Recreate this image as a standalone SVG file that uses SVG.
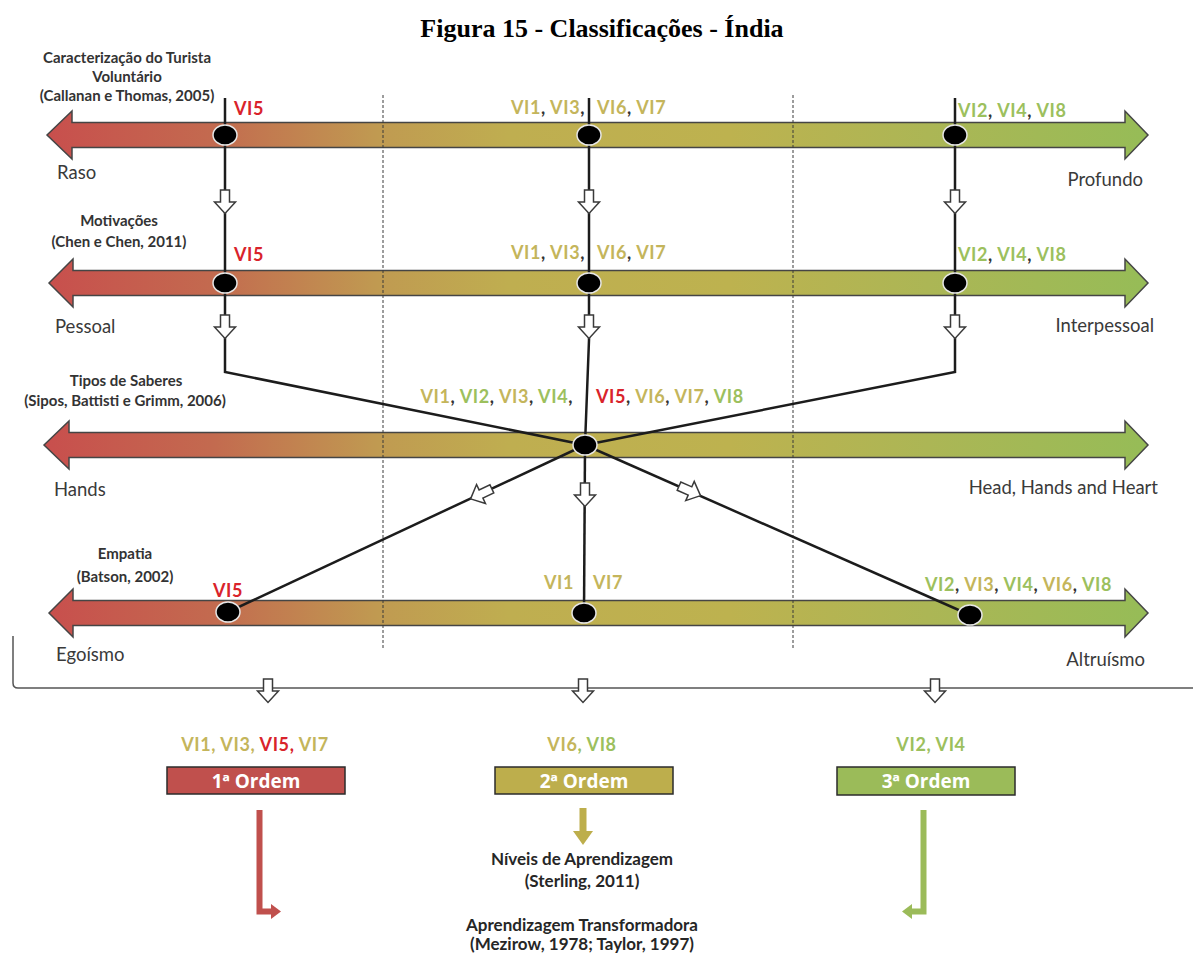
<svg xmlns="http://www.w3.org/2000/svg" xmlns:xlink="http://www.w3.org/1999/xlink" width="1193" height="954" viewBox="0 0 1193 954">
  <defs>
    <linearGradient id="scaleGrad" gradientUnits="userSpaceOnUse" x1="47" y1="0" x2="1148" y2="0">
      <stop offset="0" stop-color="#c84f4d"/>
      <stop offset="0.15" stop-color="#c36a4f"/>
      <stop offset="0.3" stop-color="#c09a51"/>
      <stop offset="0.42" stop-color="#bfae50"/>
      <stop offset="0.62" stop-color="#bdb24f"/>
      <stop offset="0.8" stop-color="#acb655"/>
      <stop offset="1" stop-color="#96bc57"/>
    </linearGradient>
    <!-- hollow block arrow, pointing down, origin at the base of the head -->
    <path id="hollow" d="M-4.5,-12 H4.5 V0 H10.5 L0,11.5 L-10.5,0 H-4.5 Z" fill="#fff" stroke="#3a3a3a" stroke-width="1.5" stroke-linejoin="miter"/>
    <style>
      .scale { fill: url(#scaleGrad); stroke: #454545; stroke-width: 1.5; }
      .link { fill: none; stroke: #1c1c1c; stroke-width: 2.5; stroke-linejoin: miter; }
      .divider { stroke: #3a3a3a; stroke-width: 1; stroke-dasharray: 3 2; }
      .dot { fill: #000; stroke: #e6e6e6; stroke-width: 1.5; }
      .head { font-family: "Lato", "Liberation Sans", sans-serif; font-weight: bold; font-size: 15px; fill: #333; text-anchor: middle; }
      .pole { font-family: "Lato", "Liberation Sans", sans-serif; font-size: 18.5px; fill: #3a3a3a; }
      .vi { font-family: "Lato", "Liberation Sans", sans-serif; font-weight: bold; font-size: 18px; letter-spacing: 0.6px; }
      .ol { fill: #c4b55b; }
      .gr { fill: #9cc05d; }
      .rd { fill: #d9232b; }
      .box-text { font-family: "Open Sans", "Liberation Sans", sans-serif; font-weight: bold; font-size: 19px; fill: #fff; text-anchor: middle; }
      .note { font-family: "Lato", "Liberation Sans", sans-serif; font-weight: bold; font-size: 17px; fill: #262626; text-anchor: middle; }
      .title { font-family: "Liberation Serif", "Times New Roman", serif; font-weight: bold; font-size: 26px; fill: #000; text-anchor: middle; }
    </style>
  </defs>

  <rect width="1193" height="954" fill="#fff"/>

  <text class="title" x="602" y="37">Figura 15 - Classificações - Índia</text>

  <!-- the four double-headed scales -->
  <g id="scale-caracterizacao">
    <path class="scale" d="M47,135 L72,111 L72,122.5 L1125,122.5 L1125,111 L1148,135 L1125,159 L1125,147.5 L72,147.5 L72,159 Z"/>
    <text class="head" x="127" y="63">Caracterização do Turista</text>
    <text class="head" x="127" y="82">Voluntário</text>
    <text class="head" x="127" y="101">(Callanan e Thomas, 2005)</text>
    <text class="pole" x="57" y="179">Raso</text>
    <text class="pole" x="1143" y="186" text-anchor="end">Profundo</text>
  </g>

  <g id="scale-motivacoes">
    <path class="scale" d="M49,283 L73,259 L73,270.5 L1125,270.5 L1125,259 L1148,283 L1125,307 L1125,295.5 L73,295.5 L73,307 Z"/>
    <text class="head" x="119" y="226">Motivações</text>
    <text class="head" x="119" y="247">(Chen e Chen, 2011)</text>
    <text class="pole" x="55" y="333">Pessoal</text>
    <text class="pole" x="1154" y="332" text-anchor="end">Interpessoal</text>
  </g>

  <g id="scale-saberes">
    <path class="scale" d="M44,445 L69,421 L69,432.5 L1125,432.5 L1125,421 L1148,445 L1125,469 L1125,457.5 L69,457.5 L69,469 Z"/>
    <text class="head" x="126" y="386">Tipos de Saberes</text>
    <text class="head" x="125" y="406">(Sipos, Battisti e Grimm, 2006)</text>
    <text class="pole" x="54" y="496">Hands</text>
    <text class="pole" x="1158" y="494" text-anchor="end">Head, Hands and Heart</text>
  </g>

  <g id="scale-empatia">
    <path class="scale" d="M49,613 L73,589 L73,600.5 L1125,600.5 L1125,589 L1148,613 L1125,637 L1125,625.5 L73,625.5 L73,637 Z"/>
    <text class="head" x="125" y="559">Empatia</text>
    <text class="head" x="125" y="582">(Batson, 2002)</text>
    <text class="pole" x="56" y="661">Egoísmo</text>
    <text class="pole" x="1145" y="666" text-anchor="end">Altruísmo</text>
  </g>

  <!-- dashed column dividers -->
  <g id="dividers">
    <line class="divider" x1="383" y1="95" x2="383" y2="648"/>
    <line class="divider" x1="793" y1="95" x2="793" y2="648"/>
  </g>

  <!-- connectors between the scales -->
  <g id="connectors">
    <polyline class="link" points="225,98 225,372 585,445"/>
    <polyline class="link" points="589,98 589,340 585,445"/>
    <polyline class="link" points="955,98 955,372 585,445"/>
    <line class="link" x1="585" y1="445" x2="228" y2="612"/>
    <line class="link" x1="585" y1="445" x2="584" y2="613"/>
    <line class="link" x1="585" y1="445" x2="970" y2="615"/>

    <use xlink:href="#hollow" href="#hollow" transform="translate(225,202)"/>
    <use xlink:href="#hollow" href="#hollow" transform="translate(589,202)"/>
    <use xlink:href="#hollow" href="#hollow" transform="translate(955,202)"/>
    <use xlink:href="#hollow" href="#hollow" transform="translate(225,327)"/>
    <use xlink:href="#hollow" href="#hollow" transform="translate(589,327)"/>
    <use xlink:href="#hollow" href="#hollow" transform="translate(955,327)"/>
    <use xlink:href="#hollow" href="#hollow" transform="translate(481,494) rotate(64.9)"/>
    <use xlink:href="#hollow" href="#hollow" transform="translate(585,495)"/>
    <use xlink:href="#hollow" href="#hollow" transform="translate(690,491) rotate(-66.2)"/>

    <!-- bracket gathering the scales -->
    <path d="M13,636 L13,683 Q13,688 18,688 L1193,688" fill="none" stroke="#555" stroke-width="1.5"/>
    <use xlink:href="#hollow" href="#hollow" transform="translate(268,691)"/>
    <use xlink:href="#hollow" href="#hollow" transform="translate(583,691)"/>
    <use xlink:href="#hollow" href="#hollow" transform="translate(935,691)"/>

    <!-- coloured arrows below the order boxes -->
    <path d="M259.5,810 V911.5 H272" fill="none" stroke="#c0504d" stroke-width="6"/>
    <path d="M271,904 L281,911.5 L271,919 Z" fill="#c0504d"/>
    <rect x="579.5" y="808" width="7" height="24" fill="#bdae4c"/>
    <path d="M573,831 L593,831 L583,845 Z" fill="#bdae4c"/>
    <path d="M923.5,810 V911.5 H911" fill="none" stroke="#9bbb59" stroke-width="6"/>
    <path d="M912,904 L902,911.5 L912,919 Z" fill="#9bbb59"/>
  </g>

  <!-- position markers on the scales -->
  <g id="markers">
    <ellipse class="dot" cx="225" cy="135" rx="12" ry="10"/>
    <ellipse class="dot" cx="589" cy="135" rx="12" ry="10"/>
    <ellipse class="dot" cx="955" cy="135" rx="12" ry="10"/>
    <ellipse class="dot" cx="225" cy="283" rx="12" ry="10"/>
    <ellipse class="dot" cx="589" cy="283" rx="12" ry="10"/>
    <ellipse class="dot" cx="955" cy="283" rx="12" ry="10"/>
    <ellipse class="dot" cx="585" cy="445" rx="12" ry="10"/>
    <ellipse class="dot" cx="228" cy="612" rx="12" ry="10"/>
    <ellipse class="dot" cx="584" cy="613" rx="12" ry="10"/>
    <ellipse class="dot" cx="970" cy="615" rx="12" ry="10"/>
  </g>

  <!-- case labels -->
  <g id="labels-caracterizacao">
    <text class="vi rd" x="234" y="115">VI5</text>
    <text class="vi" x="585" y="114" text-anchor="end"><tspan class="ol">VI1</tspan><tspan fill="#333">, </tspan><tspan class="ol">VI3</tspan><tspan fill="#333">,</tspan></text>
    <text class="vi" x="597" y="114"><tspan class="ol">VI6</tspan><tspan fill="#333">, </tspan><tspan class="ol">VI7</tspan></text>
    <text class="vi" x="958" y="117"><tspan class="gr">VI2</tspan><tspan fill="#333">, </tspan><tspan class="gr">VI4</tspan><tspan fill="#333">, </tspan><tspan class="gr">VI8</tspan></text>
  </g>
  <g id="labels-motivacoes">
    <text class="vi rd" x="234" y="261">VI5</text>
    <text class="vi" x="585" y="259" text-anchor="end"><tspan class="ol">VI1</tspan><tspan fill="#333">, </tspan><tspan class="ol">VI3</tspan><tspan fill="#333">,</tspan></text>
    <text class="vi" x="597" y="259"><tspan class="ol">VI6</tspan><tspan fill="#333">, </tspan><tspan class="ol">VI7</tspan></text>
    <text class="vi" x="958" y="261"><tspan class="gr">VI2</tspan><tspan fill="#333">, </tspan><tspan class="gr">VI4</tspan><tspan fill="#333">, </tspan><tspan class="gr">VI8</tspan></text>
  </g>
  <g id="labels-saberes">
    <text class="vi" x="573" y="403" text-anchor="end"><tspan class="ol">VI1</tspan><tspan fill="#333">, </tspan><tspan class="gr">VI2</tspan><tspan fill="#333">, </tspan><tspan class="ol">VI3</tspan><tspan fill="#333">, </tspan><tspan class="gr">VI4</tspan><tspan fill="#333">,</tspan></text>
    <text class="vi" x="596" y="403"><tspan class="rd">VI5</tspan><tspan fill="#333">, </tspan><tspan class="ol">VI6</tspan><tspan fill="#333">, </tspan><tspan class="ol">VI7</tspan><tspan fill="#333">, </tspan><tspan class="gr">VI8</tspan></text>
  </g>
  <g id="labels-empatia">
    <text class="vi rd" x="213" y="597">VI5</text>
    <text class="vi ol" x="574" y="589" text-anchor="end">VI1</text>
    <text class="vi ol" x="593" y="589">VI7</text>
    <text class="vi" x="925" y="591"><tspan class="gr">VI2</tspan><tspan fill="#333">, </tspan><tspan class="ol">VI3</tspan><tspan fill="#333">, </tspan><tspan class="gr">VI4</tspan><tspan fill="#333">, </tspan><tspan class="ol">VI6</tspan><tspan fill="#333">, </tspan><tspan class="gr">VI8</tspan></text>
  </g>

  <!-- learning orders -->
  <g id="ordem-1">
    <text class="vi" x="255" y="751" text-anchor="middle"><tspan class="ol">VI1, VI3, </tspan><tspan class="rd">VI5, </tspan><tspan class="ol">VI7</tspan></text>
    <rect x="167" y="767" width="178" height="27" fill="#c0504d" stroke="#2b2b2b" stroke-width="1.5"/>
    <text class="box-text" x="256" y="788">1ª Ordem</text>
  </g>
  <g id="ordem-2">
    <text class="vi" x="582" y="751" text-anchor="middle"><tspan class="ol">VI6</tspan><tspan class="gr">, VI8</tspan></text>
    <rect x="495" y="767" width="178" height="27" fill="#bdae4c" stroke="#2b2b2b" stroke-width="1.5"/>
    <text class="box-text" x="584" y="788">2ª Ordem</text>
  </g>
  <g id="ordem-3">
    <text class="vi gr" x="931" y="751" text-anchor="middle">VI2, VI4</text>
    <rect x="837" y="767" width="178" height="28" fill="#9bbb59" stroke="#2b2b2b" stroke-width="1.5"/>
    <text class="box-text" x="926" y="788">3ª Ordem</text>
  </g>

  <g id="niveis">
    <text class="note" x="582" y="865">Níveis de Aprendizagem</text>
    <text class="note" x="582" y="887">(Sterling, 2011)</text>
    <text class="note" x="582" y="931">Aprendizagem Transformadora</text>
    <text class="note" x="582" y="950">(Mezirow, 1978; Taylor, 1997)</text>
  </g>
</svg>
